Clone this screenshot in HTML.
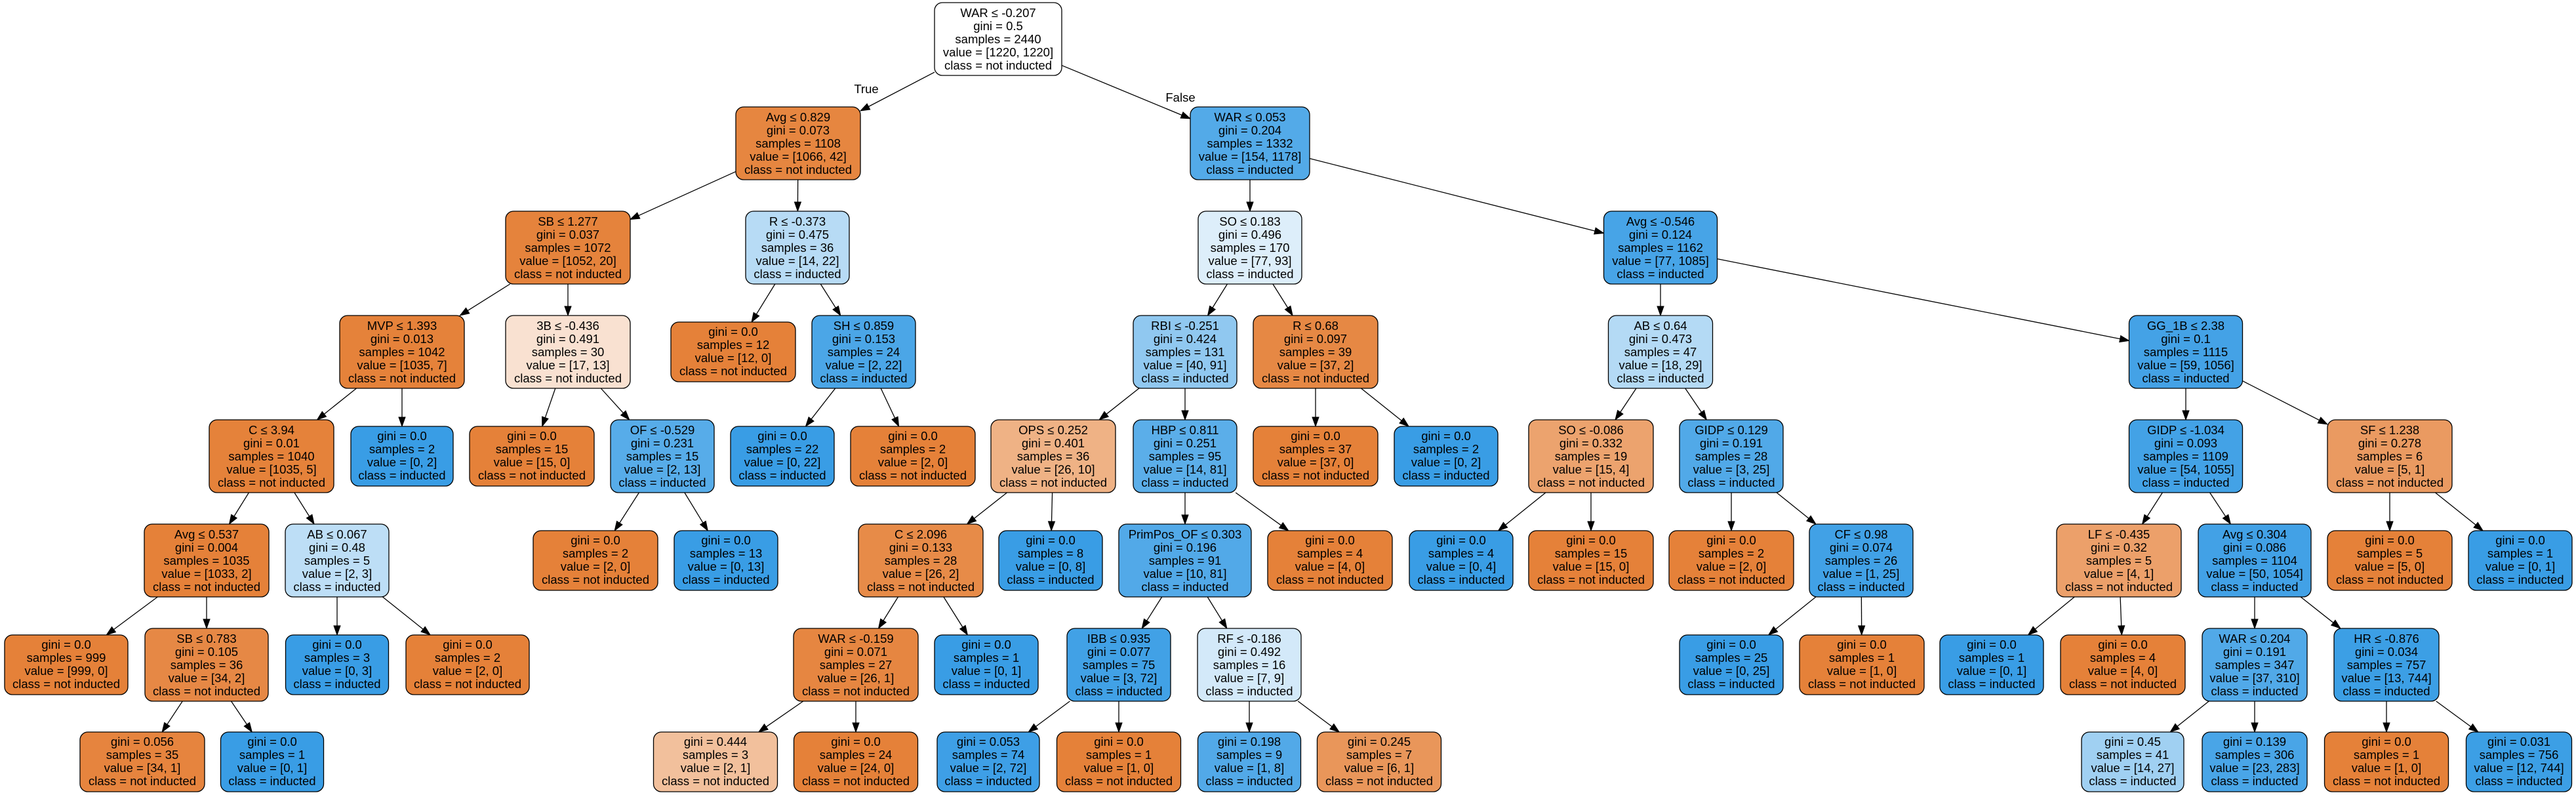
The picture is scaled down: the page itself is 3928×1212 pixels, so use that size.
<!DOCTYPE html>
<html><head><meta charset="utf-8">
<style>
html,body{margin:0;padding:0;background:#fff;}
svg{display:block;}
text{font-family:"Liberation Sans",Arial,sans-serif;font-size:18.5px;text-anchor:middle;fill:#000;}
rect{stroke:#000;stroke-width:1.3;}
</style></head>
<body>
<svg id="s" width="3928" height="1212" viewBox="0 0 3928 1212" xmlns="http://www.w3.org/2000/svg">
<g id="edges"></g>
<text x="1321" y="142">True</text>
<text x="1800" y="155">False</text>

<rect id="r0" x="1425" y="4" width="194" height="111" rx="12" fill="#ffffff"/>
<text x="1522" y="26"><tspan x="1522">WAR ≤ -0.207</tspan><tspan x="1522" dy="20">gini = 0.5</tspan><tspan x="1522" dy="20">samples = 2440</tspan><tspan x="1522" dy="20">value = [1220, 1220]</tspan><tspan x="1522" dy="20">class = not inducted</tspan></text>

<rect id="r1" x="1122" y="163" width="190" height="111" rx="12" fill="#e68640"/>
<text x="1217" y="185"><tspan x="1217">Avg ≤ 0.829</tspan><tspan x="1217" dy="20">gini = 0.073</tspan><tspan x="1217" dy="20">samples = 1108</tspan><tspan x="1217" dy="20">value = [1066, 42]</tspan><tspan x="1217" dy="20">class = not inducted</tspan></text>

<rect id="r2" x="1815" y="163" width="182" height="111" rx="12" fill="#53aae8"/>
<text x="1906" y="185"><tspan x="1906">WAR ≤ 0.053</tspan><tspan x="1906" dy="20">gini = 0.204</tspan><tspan x="1906" dy="20">samples = 1332</tspan><tspan x="1906" dy="20">value = [154, 1178]</tspan><tspan x="1906" dy="20">class = inducted</tspan></text>

<rect id="r3" x="771" y="322" width="190" height="111" rx="12" fill="#e5833c"/>
<text x="866" y="344"><tspan x="866">SB ≤ 1.277</tspan><tspan x="866" dy="20">gini = 0.037</tspan><tspan x="866" dy="20">samples = 1072</tspan><tspan x="866" dy="20">value = [1052, 20]</tspan><tspan x="866" dy="20">class = not inducted</tspan></text>

<rect id="r4" x="1137" y="322" width="158" height="111" rx="12" fill="#b7dbf5"/>
<text x="1216" y="344"><tspan x="1216">R ≤ -0.373</tspan><tspan x="1216" dy="20">gini = 0.475</tspan><tspan x="1216" dy="20">samples = 36</tspan><tspan x="1216" dy="20">value = [14, 22]</tspan><tspan x="1216" dy="20">class = inducted</tspan></text>

<rect id="r5" x="1827" y="322" width="158" height="111" rx="12" fill="#ddeefa"/>
<text x="1906" y="344"><tspan x="1906">SO ≤ 0.183</tspan><tspan x="1906" dy="20">gini = 0.496</tspan><tspan x="1906" dy="20">samples = 170</tspan><tspan x="1906" dy="20">value = [77, 93]</tspan><tspan x="1906" dy="20">class = inducted</tspan></text>

<rect id="r6" x="2445.5" y="322" width="173" height="111" rx="12" fill="#47a4e7"/>
<text x="2532" y="344"><tspan x="2532">Avg ≤ -0.546</tspan><tspan x="2532" dy="20">gini = 0.124</tspan><tspan x="2532" dy="20">samples = 1162</tspan><tspan x="2532" dy="20">value = [77, 1085]</tspan><tspan x="2532" dy="20">class = inducted</tspan></text>

<rect id="r7" x="518" y="481" width="190" height="111" rx="12" fill="#e5823a"/>
<text x="613" y="503"><tspan x="613">MVP ≤ 1.393</tspan><tspan x="613" dy="20">gini = 0.013</tspan><tspan x="613" dy="20">samples = 1042</tspan><tspan x="613" dy="20">value = [1035, 7]</tspan><tspan x="613" dy="20">class = not inducted</tspan></text>

<rect id="r8" x="771" y="481" width="190" height="111" rx="12" fill="#f9e1d1"/>
<text x="866" y="503"><tspan x="866">3B ≤ -0.436</tspan><tspan x="866" dy="20">gini = 0.491</tspan><tspan x="866" dy="20">samples = 30</tspan><tspan x="866" dy="20">value = [17, 13]</tspan><tspan x="866" dy="20">class = not inducted</tspan></text>

<rect id="r9" x="1023" y="491" width="190" height="91" rx="12" fill="#e58139"/>
<text x="1118" y="512"><tspan x="1118">gini = 0.0</tspan><tspan x="1118" dy="20">samples = 12</tspan><tspan x="1118" dy="20">value = [12, 0]</tspan><tspan x="1118" dy="20">class = not inducted</tspan></text>

<rect id="r10" x="1238" y="481" width="158" height="111" rx="12" fill="#4ba6e7"/>
<text x="1317" y="503"><tspan x="1317">SH ≤ 0.859</tspan><tspan x="1317" dy="20">gini = 0.153</tspan><tspan x="1317" dy="20">samples = 24</tspan><tspan x="1317" dy="20">value = [2, 22]</tspan><tspan x="1317" dy="20">class = inducted</tspan></text>

<rect id="r11" x="1728" y="481" width="158" height="111" rx="12" fill="#90c8f0"/>
<text x="1807" y="503"><tspan x="1807">RBI ≤ -0.251</tspan><tspan x="1807" dy="20">gini = 0.424</tspan><tspan x="1807" dy="20">samples = 131</tspan><tspan x="1807" dy="20">value = [40, 91]</tspan><tspan x="1807" dy="20">class = inducted</tspan></text>

<rect id="r12" x="1911" y="481" width="190" height="111" rx="12" fill="#e68844"/>
<text x="2006" y="503"><tspan x="2006">R ≤ 0.68</tspan><tspan x="2006" dy="20">gini = 0.097</tspan><tspan x="2006" dy="20">samples = 39</tspan><tspan x="2006" dy="20">value = [37, 2]</tspan><tspan x="2006" dy="20">class = not inducted</tspan></text>

<rect id="r13" x="2452.5" y="481" width="159" height="111" rx="12" fill="#b4daf5"/>
<text x="2532" y="503"><tspan x="2532">AB ≤ 0.64</tspan><tspan x="2532" dy="20">gini = 0.473</tspan><tspan x="2532" dy="20">samples = 47</tspan><tspan x="2532" dy="20">value = [18, 29]</tspan><tspan x="2532" dy="20">class = inducted</tspan></text>

<rect id="r14" x="3246.5" y="481" width="173" height="111" rx="12" fill="#44a2e6"/>
<text x="3333" y="503"><tspan x="3333">GG_1B ≤ 2.38</tspan><tspan x="3333" dy="20">gini = 0.1</tspan><tspan x="3333" dy="20">samples = 1115</tspan><tspan x="3333" dy="20">value = [59, 1056]</tspan><tspan x="3333" dy="20">class = inducted</tspan></text>

<rect id="r15" x="319" y="640" width="190" height="111" rx="12" fill="#e5823a"/>
<text x="414" y="662"><tspan x="414">C ≤ 3.94</tspan><tspan x="414" dy="20">gini = 0.01</tspan><tspan x="414" dy="20">samples = 1040</tspan><tspan x="414" dy="20">value = [1035, 5]</tspan><tspan x="414" dy="20">class = not inducted</tspan></text>

<rect id="r16" x="535" y="650" width="156" height="91" rx="12" fill="#399de5"/>
<text x="613" y="671"><tspan x="613">gini = 0.0</tspan><tspan x="613" dy="20">samples = 2</tspan><tspan x="613" dy="20">value = [0, 2]</tspan><tspan x="613" dy="20">class = inducted</tspan></text>

<rect id="r17" x="716" y="650" width="190" height="91" rx="12" fill="#e58139"/>
<text x="811" y="671"><tspan x="811">gini = 0.0</tspan><tspan x="811" dy="20">samples = 15</tspan><tspan x="811" dy="20">value = [15, 0]</tspan><tspan x="811" dy="20">class = not inducted</tspan></text>

<rect id="r18" x="931" y="640" width="158" height="111" rx="12" fill="#57ace9"/>
<text x="1010" y="662"><tspan x="1010">OF ≤ -0.529</tspan><tspan x="1010" dy="20">gini = 0.231</tspan><tspan x="1010" dy="20">samples = 15</tspan><tspan x="1010" dy="20">value = [2, 13]</tspan><tspan x="1010" dy="20">class = inducted</tspan></text>

<rect id="r19" x="1114" y="650" width="158" height="91" rx="12" fill="#399de5"/>
<text x="1193" y="671"><tspan x="1193">gini = 0.0</tspan><tspan x="1193" dy="20">samples = 22</tspan><tspan x="1193" dy="20">value = [0, 22]</tspan><tspan x="1193" dy="20">class = inducted</tspan></text>

<rect id="r20" x="1297" y="650" width="190" height="91" rx="12" fill="#e58139"/>
<text x="1392" y="671"><tspan x="1392">gini = 0.0</tspan><tspan x="1392" dy="20">samples = 2</tspan><tspan x="1392" dy="20">value = [2, 0]</tspan><tspan x="1392" dy="20">class = not inducted</tspan></text>

<rect id="r21" x="1511" y="640" width="190" height="111" rx="12" fill="#efb285"/>
<text x="1606" y="662"><tspan x="1606">OPS ≤ 0.252</tspan><tspan x="1606" dy="20">gini = 0.401</tspan><tspan x="1606" dy="20">samples = 36</tspan><tspan x="1606" dy="20">value = [26, 10]</tspan><tspan x="1606" dy="20">class = not inducted</tspan></text>

<rect id="r22" x="1728" y="640" width="158" height="111" rx="12" fill="#5baee9"/>
<text x="1807" y="662"><tspan x="1807">HBP ≤ 0.811</tspan><tspan x="1807" dy="20">gini = 0.251</tspan><tspan x="1807" dy="20">samples = 95</tspan><tspan x="1807" dy="20">value = [14, 81]</tspan><tspan x="1807" dy="20">class = inducted</tspan></text>

<rect id="r23" x="1911" y="650" width="190" height="91" rx="12" fill="#e58139"/>
<text x="2006" y="671"><tspan x="2006">gini = 0.0</tspan><tspan x="2006" dy="20">samples = 37</tspan><tspan x="2006" dy="20">value = [37, 0]</tspan><tspan x="2006" dy="20">class = not inducted</tspan></text>

<rect id="r24" x="2126" y="650" width="158" height="91" rx="12" fill="#399de5"/>
<text x="2205" y="671"><tspan x="2205">gini = 0.0</tspan><tspan x="2205" dy="20">samples = 2</tspan><tspan x="2205" dy="20">value = [0, 2]</tspan><tspan x="2205" dy="20">class = inducted</tspan></text>

<rect id="r25" x="2331" y="640" width="190" height="111" rx="12" fill="#eca36e"/>
<text x="2426" y="662"><tspan x="2426">SO ≤ -0.086</tspan><tspan x="2426" dy="20">gini = 0.332</tspan><tspan x="2426" dy="20">samples = 19</tspan><tspan x="2426" dy="20">value = [15, 4]</tspan><tspan x="2426" dy="20">class = not inducted</tspan></text>

<rect id="r26" x="2561" y="640" width="158" height="111" rx="12" fill="#51a9e8"/>
<text x="2640" y="662"><tspan x="2640">GIDP ≤ 0.129</tspan><tspan x="2640" dy="20">gini = 0.191</tspan><tspan x="2640" dy="20">samples = 28</tspan><tspan x="2640" dy="20">value = [3, 25]</tspan><tspan x="2640" dy="20">class = inducted</tspan></text>

<rect id="r27" x="3246.5" y="640" width="173" height="111" rx="12" fill="#43a2e6"/>
<text x="3333" y="662"><tspan x="3333">GIDP ≤ -1.034</tspan><tspan x="3333" dy="20">gini = 0.093</tspan><tspan x="3333" dy="20">samples = 1109</tspan><tspan x="3333" dy="20">value = [54, 1055]</tspan><tspan x="3333" dy="20">class = inducted</tspan></text>

<rect id="r28" x="3549" y="640" width="190" height="111" rx="12" fill="#ea9a61"/>
<text x="3644" y="662"><tspan x="3644">SF ≤ 1.238</tspan><tspan x="3644" dy="20">gini = 0.278</tspan><tspan x="3644" dy="20">samples = 6</tspan><tspan x="3644" dy="20">value = [5, 1]</tspan><tspan x="3644" dy="20">class = not inducted</tspan></text>

<rect id="r29" x="220" y="799" width="190" height="111" rx="12" fill="#e58139"/>
<text x="315" y="821"><tspan x="315">Avg ≤ 0.537</tspan><tspan x="315" dy="20">gini = 0.004</tspan><tspan x="315" dy="20">samples = 1035</tspan><tspan x="315" dy="20">value = [1033, 2]</tspan><tspan x="315" dy="20">class = not inducted</tspan></text>

<rect id="r30" x="435" y="799" width="158" height="111" rx="12" fill="#bddef6"/>
<text x="514" y="821"><tspan x="514">AB ≤ 0.067</tspan><tspan x="514" dy="20">gini = 0.48</tspan><tspan x="514" dy="20">samples = 5</tspan><tspan x="514" dy="20">value = [2, 3]</tspan><tspan x="514" dy="20">class = inducted</tspan></text>

<rect id="r31" x="813" y="809" width="190" height="91" rx="12" fill="#e58139"/>
<text x="908" y="830"><tspan x="908">gini = 0.0</tspan><tspan x="908" dy="20">samples = 2</tspan><tspan x="908" dy="20">value = [2, 0]</tspan><tspan x="908" dy="20">class = not inducted</tspan></text>

<rect id="r32" x="1028" y="809" width="158" height="91" rx="12" fill="#399de5"/>
<text x="1107" y="830"><tspan x="1107">gini = 0.0</tspan><tspan x="1107" dy="20">samples = 13</tspan><tspan x="1107" dy="20">value = [0, 13]</tspan><tspan x="1107" dy="20">class = inducted</tspan></text>

<rect id="r33" x="1309" y="799" width="190" height="111" rx="12" fill="#e78b48"/>
<text x="1404" y="821"><tspan x="1404">C ≤ 2.096</tspan><tspan x="1404" dy="20">gini = 0.133</tspan><tspan x="1404" dy="20">samples = 28</tspan><tspan x="1404" dy="20">value = [26, 2]</tspan><tspan x="1404" dy="20">class = not inducted</tspan></text>

<rect id="r34" x="1523" y="809" width="158" height="91" rx="12" fill="#399de5"/>
<text x="1602" y="830"><tspan x="1602">gini = 0.0</tspan><tspan x="1602" dy="20">samples = 8</tspan><tspan x="1602" dy="20">value = [0, 8]</tspan><tspan x="1602" dy="20">class = inducted</tspan></text>

<rect id="r35" x="1706" y="799" width="202" height="111" rx="12" fill="#52a9e8"/>
<text x="1807" y="821"><tspan x="1807">PrimPos_OF ≤ 0.303</tspan><tspan x="1807" dy="20">gini = 0.196</tspan><tspan x="1807" dy="20">samples = 91</tspan><tspan x="1807" dy="20">value = [10, 81]</tspan><tspan x="1807" dy="20">class = inducted</tspan></text>

<rect id="r36" x="1933" y="809" width="190" height="91" rx="12" fill="#e58139"/>
<text x="2028" y="830"><tspan x="2028">gini = 0.0</tspan><tspan x="2028" dy="20">samples = 4</tspan><tspan x="2028" dy="20">value = [4, 0]</tspan><tspan x="2028" dy="20">class = not inducted</tspan></text>

<rect id="r37" x="2149" y="809" width="158" height="91" rx="12" fill="#399de5"/>
<text x="2228" y="830"><tspan x="2228">gini = 0.0</tspan><tspan x="2228" dy="20">samples = 4</tspan><tspan x="2228" dy="20">value = [0, 4]</tspan><tspan x="2228" dy="20">class = inducted</tspan></text>

<rect id="r38" x="2331" y="809" width="190" height="91" rx="12" fill="#e58139"/>
<text x="2426" y="830"><tspan x="2426">gini = 0.0</tspan><tspan x="2426" dy="20">samples = 15</tspan><tspan x="2426" dy="20">value = [15, 0]</tspan><tspan x="2426" dy="20">class = not inducted</tspan></text>

<rect id="r39" x="2545" y="809" width="190" height="91" rx="12" fill="#e58139"/>
<text x="2640" y="830"><tspan x="2640">gini = 0.0</tspan><tspan x="2640" dy="20">samples = 2</tspan><tspan x="2640" dy="20">value = [2, 0]</tspan><tspan x="2640" dy="20">class = not inducted</tspan></text>

<rect id="r40" x="2759" y="799" width="158" height="111" rx="12" fill="#41a1e6"/>
<text x="2838" y="821"><tspan x="2838">CF ≤ 0.98</tspan><tspan x="2838" dy="20">gini = 0.074</tspan><tspan x="2838" dy="20">samples = 26</tspan><tspan x="2838" dy="20">value = [1, 25]</tspan><tspan x="2838" dy="20">class = inducted</tspan></text>

<rect id="r41" x="3136" y="799" width="190" height="111" rx="12" fill="#eca06a"/>
<text x="3231" y="821"><tspan x="3231">LF ≤ -0.435</tspan><tspan x="3231" dy="20">gini = 0.32</tspan><tspan x="3231" dy="20">samples = 5</tspan><tspan x="3231" dy="20">value = [4, 1]</tspan><tspan x="3231" dy="20">class = not inducted</tspan></text>

<rect id="r42" x="3352" y="799" width="172" height="111" rx="12" fill="#42a1e6"/>
<text x="3438" y="821"><tspan x="3438">Avg ≤ 0.304</tspan><tspan x="3438" dy="20">gini = 0.086</tspan><tspan x="3438" dy="20">samples = 1104</tspan><tspan x="3438" dy="20">value = [50, 1054]</tspan><tspan x="3438" dy="20">class = inducted</tspan></text>

<rect id="r43" x="3549" y="809" width="190" height="91" rx="12" fill="#e58139"/>
<text x="3644" y="830"><tspan x="3644">gini = 0.0</tspan><tspan x="3644" dy="20">samples = 5</tspan><tspan x="3644" dy="20">value = [5, 0]</tspan><tspan x="3644" dy="20">class = not inducted</tspan></text>

<rect id="r44" x="3764" y="809" width="158" height="91" rx="12" fill="#399de5"/>
<text x="3843" y="830"><tspan x="3843">gini = 0.0</tspan><tspan x="3843" dy="20">samples = 1</tspan><tspan x="3843" dy="20">value = [0, 1]</tspan><tspan x="3843" dy="20">class = inducted</tspan></text>

<rect id="r45" x="7" y="968" width="188" height="91" rx="12" fill="#e58139"/>
<text x="101" y="989"><tspan x="101">gini = 0.0</tspan><tspan x="101" dy="20">samples = 999</tspan><tspan x="101" dy="20">value = [999, 0]</tspan><tspan x="101" dy="20">class = not inducted</tspan></text>

<rect id="r46" x="221" y="958" width="188" height="111" rx="12" fill="#e68845"/>
<text x="315" y="980"><tspan x="315">SB ≤ 0.783</tspan><tspan x="315" dy="20">gini = 0.105</tspan><tspan x="315" dy="20">samples = 36</tspan><tspan x="315" dy="20">value = [34, 2]</tspan><tspan x="315" dy="20">class = not inducted</tspan></text>

<rect id="r47" x="435.5" y="968" width="157" height="91" rx="12" fill="#399de5"/>
<text x="514" y="989"><tspan x="514">gini = 0.0</tspan><tspan x="514" dy="20">samples = 3</tspan><tspan x="514" dy="20">value = [0, 3]</tspan><tspan x="514" dy="20">class = inducted</tspan></text>

<rect id="r48" x="619" y="968" width="188" height="91" rx="12" fill="#e58139"/>
<text x="713" y="989"><tspan x="713">gini = 0.0</tspan><tspan x="713" dy="20">samples = 2</tspan><tspan x="713" dy="20">value = [2, 0]</tspan><tspan x="713" dy="20">class = not inducted</tspan></text>

<rect id="r49" x="1210" y="958" width="190" height="111" rx="12" fill="#e68641"/>
<text x="1305" y="980"><tspan x="1305">WAR ≤ -0.159</tspan><tspan x="1305" dy="20">gini = 0.071</tspan><tspan x="1305" dy="20">samples = 27</tspan><tspan x="1305" dy="20">value = [26, 1]</tspan><tspan x="1305" dy="20">class = not inducted</tspan></text>

<rect id="r50" x="1425" y="968" width="158" height="91" rx="12" fill="#399de5"/>
<text x="1504" y="989"><tspan x="1504">gini = 0.0</tspan><tspan x="1504" dy="20">samples = 1</tspan><tspan x="1504" dy="20">value = [0, 1]</tspan><tspan x="1504" dy="20">class = inducted</tspan></text>

<rect id="r51" x="1627" y="958" width="158" height="111" rx="12" fill="#41a1e6"/>
<text x="1706" y="980"><tspan x="1706">IBB ≤ 0.935</tspan><tspan x="1706" dy="20">gini = 0.077</tspan><tspan x="1706" dy="20">samples = 75</tspan><tspan x="1706" dy="20">value = [3, 72]</tspan><tspan x="1706" dy="20">class = inducted</tspan></text>

<rect id="r52" x="1826" y="958" width="158" height="111" rx="12" fill="#d3e9f9"/>
<text x="1905" y="980"><tspan x="1905">RF ≤ -0.186</tspan><tspan x="1905" dy="20">gini = 0.492</tspan><tspan x="1905" dy="20">samples = 16</tspan><tspan x="1905" dy="20">value = [7, 9]</tspan><tspan x="1905" dy="20">class = inducted</tspan></text>

<rect id="r53" x="2561" y="968" width="158" height="91" rx="12" fill="#399de5"/>
<text x="2640" y="989"><tspan x="2640">gini = 0.0</tspan><tspan x="2640" dy="20">samples = 25</tspan><tspan x="2640" dy="20">value = [0, 25]</tspan><tspan x="2640" dy="20">class = inducted</tspan></text>

<rect id="r54" x="2744" y="968" width="190" height="91" rx="12" fill="#e58139"/>
<text x="2839" y="989"><tspan x="2839">gini = 0.0</tspan><tspan x="2839" dy="20">samples = 1</tspan><tspan x="2839" dy="20">value = [1, 0]</tspan><tspan x="2839" dy="20">class = not inducted</tspan></text>

<rect id="r55" x="2958" y="968" width="158" height="91" rx="12" fill="#399de5"/>
<text x="3037" y="989"><tspan x="3037">gini = 0.0</tspan><tspan x="3037" dy="20">samples = 1</tspan><tspan x="3037" dy="20">value = [0, 1]</tspan><tspan x="3037" dy="20">class = inducted</tspan></text>

<rect id="r56" x="3142" y="968" width="190" height="91" rx="12" fill="#e58139"/>
<text x="3237" y="989"><tspan x="3237">gini = 0.0</tspan><tspan x="3237" dy="20">samples = 4</tspan><tspan x="3237" dy="20">value = [4, 0]</tspan><tspan x="3237" dy="20">class = not inducted</tspan></text>

<rect id="r57" x="3358" y="958" width="160" height="111" rx="12" fill="#51a9e8"/>
<text x="3438" y="980"><tspan x="3438">WAR ≤ 0.204</tspan><tspan x="3438" dy="20">gini = 0.191</tspan><tspan x="3438" dy="20">samples = 347</tspan><tspan x="3438" dy="20">value = [37, 310]</tspan><tspan x="3438" dy="20">class = inducted</tspan></text>

<rect id="r58" x="3559" y="958" width="160" height="111" rx="12" fill="#3c9fe5"/>
<text x="3639" y="980"><tspan x="3639">HR ≤ -0.876</tspan><tspan x="3639" dy="20">gini = 0.034</tspan><tspan x="3639" dy="20">samples = 757</tspan><tspan x="3639" dy="20">value = [13, 744]</tspan><tspan x="3639" dy="20">class = inducted</tspan></text>

<rect id="r59" x="122" y="1116" width="190" height="91" rx="12" fill="#e6843e"/>
<text x="217" y="1137"><tspan x="217">gini = 0.056</tspan><tspan x="217" dy="20">samples = 35</tspan><tspan x="217" dy="20">value = [34, 1]</tspan><tspan x="217" dy="20">class = not inducted</tspan></text>

<rect id="r60" x="336.5" y="1116" width="157" height="91" rx="12" fill="#399de5"/>
<text x="415" y="1137"><tspan x="415">gini = 0.0</tspan><tspan x="415" dy="20">samples = 1</tspan><tspan x="415" dy="20">value = [0, 1]</tspan><tspan x="415" dy="20">class = inducted</tspan></text>

<rect id="r61" x="996.5" y="1116" width="189" height="91" rx="12" fill="#f2c09c"/>
<text x="1091" y="1137"><tspan x="1091">gini = 0.444</tspan><tspan x="1091" dy="20">samples = 3</tspan><tspan x="1091" dy="20">value = [2, 1]</tspan><tspan x="1091" dy="20">class = not inducted</tspan></text>

<rect id="r62" x="1210.5" y="1116" width="189" height="91" rx="12" fill="#e58139"/>
<text x="1305" y="1137"><tspan x="1305">gini = 0.0</tspan><tspan x="1305" dy="20">samples = 24</tspan><tspan x="1305" dy="20">value = [24, 0]</tspan><tspan x="1305" dy="20">class = not inducted</tspan></text>

<rect id="r63" x="1429" y="1116" width="156" height="91" rx="12" fill="#3e9fe6"/>
<text x="1507" y="1137"><tspan x="1507">gini = 0.053</tspan><tspan x="1507" dy="20">samples = 74</tspan><tspan x="1507" dy="20">value = [2, 72]</tspan><tspan x="1507" dy="20">class = inducted</tspan></text>

<rect id="r64" x="1611.5" y="1116" width="189" height="91" rx="12" fill="#e58139"/>
<text x="1706" y="1137"><tspan x="1706">gini = 0.0</tspan><tspan x="1706" dy="20">samples = 1</tspan><tspan x="1706" dy="20">value = [1, 0]</tspan><tspan x="1706" dy="20">class = not inducted</tspan></text>

<rect id="r65" x="1826.5" y="1116" width="157" height="91" rx="12" fill="#52a9e8"/>
<text x="1905" y="1137"><tspan x="1905">gini = 0.198</tspan><tspan x="1905" dy="20">samples = 9</tspan><tspan x="1905" dy="20">value = [1, 8]</tspan><tspan x="1905" dy="20">class = inducted</tspan></text>

<rect id="r66" x="2008.5" y="1116" width="189" height="91" rx="12" fill="#e9965a"/>
<text x="2103" y="1137"><tspan x="2103">gini = 0.245</tspan><tspan x="2103" dy="20">samples = 7</tspan><tspan x="2103" dy="20">value = [6, 1]</tspan><tspan x="2103" dy="20">class = not inducted</tspan></text>

<rect id="r67" x="3174" y="1116" width="156" height="91" rx="12" fill="#a0d0f2"/>
<text x="3252" y="1137"><tspan x="3252">gini = 0.45</tspan><tspan x="3252" dy="20">samples = 41</tspan><tspan x="3252" dy="20">value = [14, 27]</tspan><tspan x="3252" dy="20">class = inducted</tspan></text>

<rect id="r68" x="3358" y="1116" width="160" height="91" rx="12" fill="#49a5e7"/>
<text x="3438" y="1137"><tspan x="3438">gini = 0.139</tspan><tspan x="3438" dy="20">samples = 306</tspan><tspan x="3438" dy="20">value = [23, 283]</tspan><tspan x="3438" dy="20">class = inducted</tspan></text>

<rect id="r69" x="3544.5" y="1116" width="189" height="91" rx="12" fill="#e58139"/>
<text x="3639" y="1137"><tspan x="3639">gini = 0.0</tspan><tspan x="3639" dy="20">samples = 1</tspan><tspan x="3639" dy="20">value = [1, 0]</tspan><tspan x="3639" dy="20">class = not inducted</tspan></text>

<rect id="r70" x="3760.5" y="1116" width="161" height="91" rx="12" fill="#3c9fe5"/>
<text x="3841" y="1137"><tspan x="3841">gini = 0.031</tspan><tspan x="3841" dy="20">samples = 756</tspan><tspan x="3841" dy="20">value = [12, 744]</tspan><tspan x="3841" dy="20">class = inducted</tspan></text>
</svg>
<script>
(function(){
var par={1:0,2:0,3:1,4:1,5:2,6:2,7:3,8:3,9:4,10:4,11:5,12:5,13:6,14:6,15:7,16:7,17:8,18:8,19:10,20:10,21:11,22:11,23:12,24:12,25:13,26:13,27:14,28:14,29:15,30:15,31:18,32:18,33:21,34:21,35:22,36:22,37:25,38:25,39:26,40:26,41:27,42:27,43:28,44:28,45:29,46:29,47:30,48:30,49:33,50:33,51:35,52:35,53:40,54:40,55:41,56:41,57:42,58:42,59:46,60:46,61:49,62:49,63:51,64:51,65:52,66:52,67:57,68:57,69:58,70:58};
function box(i){var r=document.getElementById('r'+i);var x=+r.getAttribute('x'),y=+r.getAttribute('y'),w=+r.getAttribute('width'),h=+r.getAttribute('height');return {cx:x+w/2,cy:y+h/2,hw:w/2,hh:h/2};}
function clip(b,dx,dy){var t=Infinity;if(dx!==0)t=Math.min(t,b.hw/Math.abs(dx));if(dy!==0)t=Math.min(t,b.hh/Math.abs(dy));return [b.cx+dx*t,b.cy+dy*t];}
var g=document.getElementById('edges'),ns='http://www.w3.org/2000/svg',out='';
for(var c in par){var P=box(par[c]),C=box(c);var dx=C.cx-P.cx,dy=C.cy-P.cy;
var s=clip(P,dx,dy),e=clip(C,-dx,-dy);var L=Math.sqrt((e[0]-s[0])*(e[0]-s[0])+(e[1]-s[1])*(e[1]-s[1]));var ux=(e[0]-s[0])/L,uy=(e[1]-s[1])/L;
var al=14,aw=5;var bx=e[0]-ux*al,by=e[1]-uy*al;
out+='<line x1="'+s[0]+'" y1="'+s[1]+'" x2="'+bx+'" y2="'+by+'" stroke="#000" stroke-width="1.3"/>';
out+='<polygon points="'+e[0]+','+e[1]+' '+(bx-uy*aw)+','+(by+ux*aw)+' '+(bx+uy*aw)+','+(by-ux*aw)+'" fill="#000" stroke="#000" stroke-width="1"/>';}
g.innerHTML=out;
})();
</script>
</body></html>
